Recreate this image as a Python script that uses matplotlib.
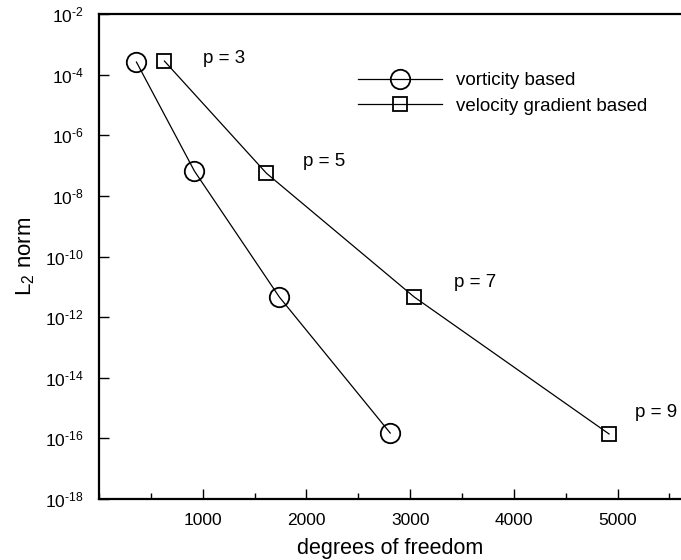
import matplotlib.pyplot as plt
from matplotlib.ticker import MultipleLocator, FixedLocator

plt.rcParams['font.family'] = ['Liberation Sans', 'DejaVu Sans']
plt.rcParams['mathtext.fontset'] = 'custom'
plt.rcParams['mathtext.rm'] = 'Liberation Sans'

# degrees of freedom and L2 error for p = 3, 5, 7, 9
dof_vort = [361, 920, 1739, 2808]
err_vort = [2.6e-4, 6.6e-8, 4.6e-12, 1.5e-16]
dof_grad = [631, 1614, 3040, 4918]
err_grad = [2.8e-4, 5.6e-8, 4.6e-12, 1.4e-16]
orders = ['p = 3', 'p = 5', 'p = 7', 'p = 9']

fig = plt.figure(figsize=(6.81, 5.60), dpi=100)
ax = fig.add_axes([99 / 681, 61 / 560, 1.0 - 99 / 681, 485 / 560])

ax.plot(dof_vort, err_vort, color='black', lw=0.9, marker='o', ms=14,
        mfc='none', mec='black', mew=1.3, label='vorticity based')
ax.plot(dof_grad, err_grad, color='black', lw=0.9, marker='s', ms=10.5,
        mfc='none', mec='black', mew=1.3, label='velocity gradient based')

# order labels next to the square markers
offsets = [(39, 3), (37, 12), (40, 15), (26, 21)]
for x, y, txt, (dx, dy) in zip(dof_grad, err_grad, orders, offsets):
    ax.annotate(txt, (x, y), xytext=(dx, dy), textcoords='offset pixels',
                fontsize=13.5, va='center', ha='left')

ax.set_yscale('log')
ax.set_ylim(1e-18, 1e-2)
ax.set_xlim(0, 5612)
exps = list(range(-18, -1, 2))
ax.yaxis.set_major_locator(FixedLocator([10.0 ** e for e in exps]))
ax.yaxis.set_minor_locator(FixedLocator([]))
# short hyphen in the exponent instead of a math minus
ax.set_yticklabels(['$\\mathregular{10^{\u2010%d}}$' % -e for e in exps])
ax.xaxis.set_major_locator(FixedLocator([1000, 2000, 3000, 4000, 5000]))
ax.xaxis.set_minor_locator(MultipleLocator(500))

ax.tick_params(which='both', direction='in', labelsize=12.5, width=1.0)
ax.tick_params(which='major', length=7)
ax.tick_params(axis='x', which='major', pad=10)
ax.tick_params(axis='y', which='major', pad=11)
ax.tick_params(which='minor', length=4)
for s in ['left', 'bottom', 'top']:
    ax.spines[s].set_linewidth(1.6)
ax.spines['right'].set_visible(False)

ax.set_xlabel('degrees of freedom', fontsize=15.5, labelpad=7)
ax.set_ylabel(r'L$_2$ norm', fontsize=16, labelpad=6)

ax.legend(loc='upper left', bbox_to_anchor=(0.445, 0.88), frameon=False,
          fontsize=13.5, handlelength=4.5, labelspacing=0.45,
          handletextpad=0.75, borderpad=0, borderaxespad=0)

fig.savefig('out.png', dpi=100)
